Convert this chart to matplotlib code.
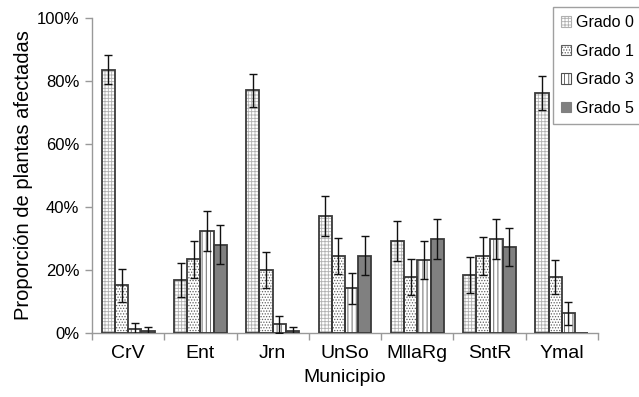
import matplotlib
matplotlib.use("Agg")
import matplotlib.pyplot as plt
import numpy as np

plt.rcParams['font.family'] = ['Liberation Sans', 'DejaVu Sans']
plt.rcParams['hatch.linewidth'] = 0.6

categories = ["CrV", "Ent", "Jrn", "UnSo", "MllaRg", "SntR", "Ymal"]
series = ["Grado 0", "Grado 1", "Grado 3", "Grado 5"]
values = {
    "Grado 0": [83.5, 16.8, 77.0, 37.1, 29.2, 18.4, 76.3],
    "Grado 1": [15.1, 23.4, 20.0, 24.4, 17.8, 24.4, 17.7],
    "Grado 3": [1.3, 32.4, 2.7, 14.2, 23.2, 29.9, 6.2],
    "Grado 5": [0.5, 28.0, 0.5, 24.5, 29.8, 27.3, 0.0],
}
errors = {
    "Grado 0": [4.6, 5.3, 5.2, 6.4, 6.3, 5.7, 5.4],
    "Grado 1": [5.3, 5.8, 5.6, 5.8, 5.6, 6.0, 5.4],
    "Grado 3": [2.0, 6.3, 2.6, 5.0, 6.0, 6.3, 3.8],
    "Grado 5": [1.5, 6.2, 1.5, 6.2, 6.3, 6.0, 0.0],
}

hatches = {"Grado 0": "+++++", "Grado 1": "......", "Grado 3": "||||", "Grado 5": ""}
faces = {"Grado 0": "white", "Grado 1": "white", "Grado 3": "white", "Grado 5": "#808080"}
hatch_cols = {"Grado 0": "#b0b0b0", "Grado 1": "#606060", "Grado 3": "#505050", "Grado 5": "#808080"}

fig = plt.figure(figsize=(6.39, 3.97), dpi=100)
ax = fig.add_axes([92/639, 1-333/397, (598-92)/639, (333-18)/397])

x = np.arange(len(categories))
w = 0.183
edge = "#3a3a3a"
handles = []
for i, s in enumerate(series):
    pos = x + (i - 1.5) * w
    v = np.array(values[s]) / 100
    e = np.array(errors[s]) / 100
    ax.bar(pos, v, w, color=faces[s], edgecolor=hatch_cols[s], hatch=hatches[s], linewidth=0, zorder=2)
    ax.bar(pos, v, w, fill=False, edgecolor=edge, linewidth=1.3, zorder=3)
    mask = e > 0
    ax.errorbar(pos[mask], v[mask], yerr=e[mask], fmt='none', ecolor='#111111',
                elinewidth=1.0, capsize=3, capthick=1.0, zorder=4)
    h = plt.Rectangle((0, 0), 1, 1, facecolor=faces[s], edgecolor=hatch_cols[s], hatch=hatches[s], linewidth=0.8)
    handles.append(h)

ax.set_xlim(-0.5, len(categories) - 0.5)
ax.set_ylim(0, 1.0)
ax.set_yticks(np.arange(0, 1.01, 0.2))
ax.set_yticklabels([f"{int(round(t*100))}%" for t in np.arange(0, 1.01, 0.2)], fontsize=12)
ax.set_xticks(x)
ax.set_xticklabels(categories, fontsize=14)
ax.set_xticks(np.arange(-0.5, len(categories), 1.0), minor=True)
ax.tick_params(axis='x', which='major', length=0, pad=9)
ax.tick_params(axis='x', which='minor', length=5, color='#999999', width=1)
ax.tick_params(axis='y', length=5, color='#999999', width=1, pad=4)

for side in ['top', 'right']:
    ax.spines[side].set_visible(False)
for side in ['left', 'bottom']:
    ax.spines[side].set_color('#999999')
    ax.spines[side].set_linewidth(1)

ax.set_xlabel("Municipio", fontsize=14, labelpad=5)
ax.set_ylabel("Proporción de plantas afectadas", fontsize=14.5, labelpad=3)

leg = fig.legend(handles, series, loc='upper left', bbox_to_anchor=(553/639, 1-7/397),
                 bbox_transform=fig.transFigure, fontsize=11.5, frameon=True, fancybox=False,
                 handlelength=0.65, handleheight=0.65, handletextpad=0.3, labelspacing=0.85,
                 borderpad=0.5, borderaxespad=0)
leg.get_frame().set_edgecolor('#888888')
leg.get_frame().set_linewidth(1)

fig.savefig("out.png", dpi=100)
